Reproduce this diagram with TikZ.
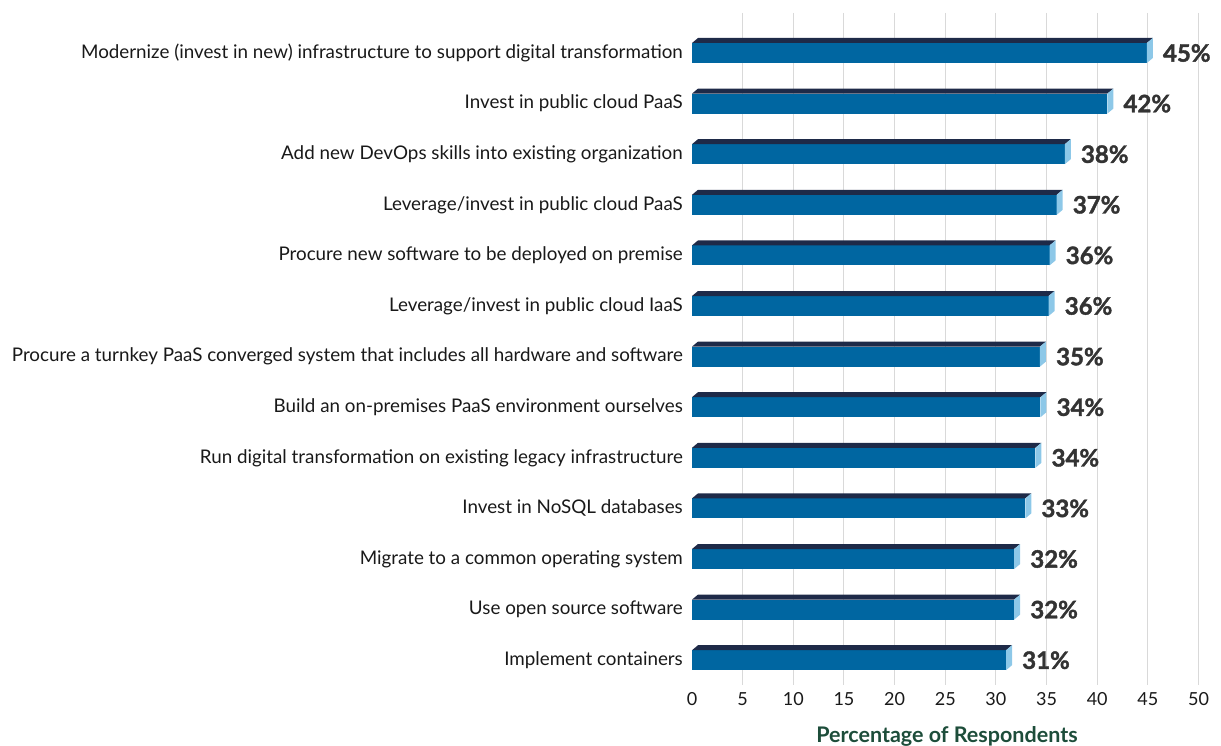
\documentclass[tikz,border=0pt]{standalone}
\usepackage{fontspec}
\setmainfont{Lato}
\newfontfamily\pctfont{Lato}[BoldFeatures={FakeBold=1.6}]
\usetikzlibrary{calc}
\definecolor{barfront}{RGB}{0,102,161}
\definecolor{bartop}{RGB}{30,42,72}
\definecolor{barside}{RGB}{141,200,232}
\definecolor{gridgray}{RGB}{217,217,217}
\definecolor{pcttext}{RGB}{51,51,51}
\definecolor{titlegreen}{RGB}{29,77,58}
\begin{document}
\begin{tikzpicture}[x=1pt,y=-1pt,
	lab/.style={anchor=east,inner sep=0pt,text=black!90,font=\fontsize{18.8}{20}\selectfont},
	pct/.style={anchor=west,inner sep=0pt,text=pcttext,font=\fontsize{24}{26}\pctfont\bfseries},
	tick/.style={inner sep=0pt,text=black!90,font=\fontsize{18}{20}\selectfont},
	gridln/.style={gridgray,line width=1pt}]
	\useasboundingbox (0,0) rectangle (1221,746);
	\foreach \v in {5,10,...,50}
		\draw[gridln] (692+10.13*\v,13) -- (692+10.13*\v,685);
	\foreach \v in {0,5,...,50}
		\node[tick] (tick\v) at (692+10.13*\v,699) {\v};
	\foreach \len/\val/\txt [count=\i from 0] in {
		44.9/45/{Modernize (invest in new) infrastructure to support digital transformation},
		41.0/42/{Invest in public cloud PaaS},
		36.8/38/{Add new DevOps skills into existing organization},
		36.0/37/{Leverage/invest in public cloud PaaS},
		35.3/36/{Procure new software to be deployed on premise},
		35.2/36/{Leverage/invest in public cloud IaaS},
		34.35/35/{Procure a turnkey PaaS converged system that includes all hardware and software},
		34.4/34/{Build an on-premises PaaS environment ourselves},
		33.9/34/{Run digital transformation on existing legacy infrastructure},
		32.9/33/{Invest in NoSQL databases},
		31.8/32/{Migrate to a common operating system},
		31.8/32/{Use open source software},
		31.0/31/{Implement containers}}{
		\pgfmathsetmacro\yt{43+50.6*\i}
		\pgfmathsetmacro\xe{692+10.13*\len}
		\fill[barfront] (692,\yt) rectangle (\xe,\yt+20);
		\fill[bartop] (692,\yt) -- (698,\yt-5) -- (\xe+6,\yt-5) -- (\xe,\yt) -- cycle;
		\fill[barside] (\xe,\yt) -- (\xe+6,\yt-5) -- (\xe+6,\yt+15) -- (\xe,\yt+20) -- cycle;
		\node[lab] (lab\i) at (683,\yt+10) {\txt};
		\node[pct] (pct\i) at (\xe+16,\yt+10) {\val\%};
	}
	\node[text=titlegreen,font=\fontsize{21.5}{23}\selectfont\bfseries] (title) at (947,736) {Percentage of Respondents};
\end{tikzpicture}
\end{document}
